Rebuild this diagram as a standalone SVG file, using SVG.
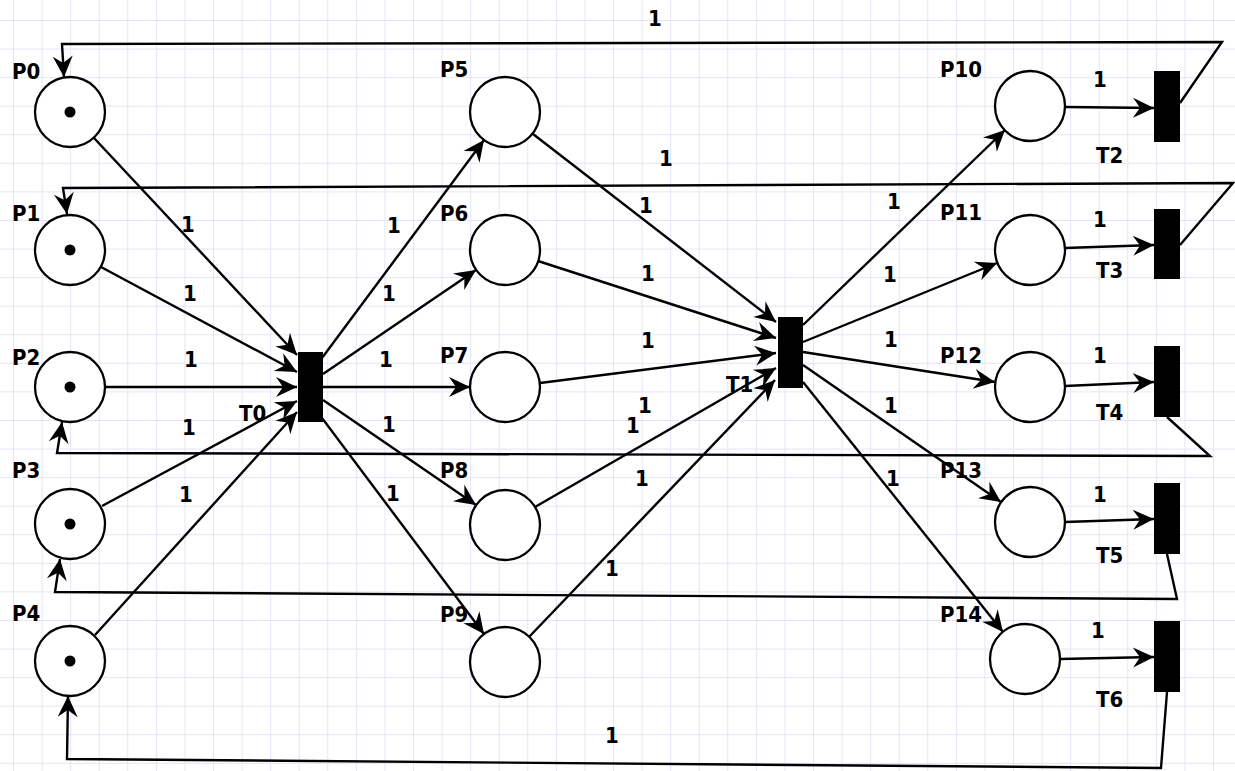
<svg xmlns="http://www.w3.org/2000/svg" width="1235" height="771" viewBox="0 0 1235 771">
<defs>
<pattern id="grid" patternUnits="userSpaceOnUse" x="13" y="20" width="28.5714" height="28.5714">
<path d="M0.5,0 V28.5714 M0,0.5 H28.5714" fill="none" stroke="#e4e4f6" stroke-width="1"/>
</pattern>
<marker id="arr" markerUnits="userSpaceOnUse" markerWidth="24" markerHeight="22" refX="21" refY="10" orient="auto" overflow="visible">
<path d="M21,10 L0,0 L7,10 L0,20 Z" fill="#000"/>
</marker>
<style>
.pl{fill:#fff;stroke:#000;stroke-width:2.3}
.tr{fill:#000}
.tok{fill:#000}
.lb{font-family:"DejaVu Sans Condensed","DejaVu Sans","Liberation Sans",sans-serif;font-stretch:condensed;font-weight:bold;font-size:22px;fill:#000}
.c{fill:none;stroke:#000;stroke-width:2.4;marker-end:url(#arr)}
.r{fill:none;stroke:#000;stroke-width:2.4;marker-end:url(#arr)}
</style>
</defs>
<rect width="1235" height="771" fill="#fff"/>
<rect width="1235" height="771" fill="url(#grid)"/>

<g id="connectors">
<line class="c" x1="94" y1="138" x2="297" y2="355"/>
<line class="c" x1="101" y1="267" x2="297" y2="372"/>
<line class="c" x1="105" y1="387" x2="297" y2="387"/>
<line class="c" x1="102" y1="506" x2="297" y2="401"/>
<line class="c" x1="95" y1="635" x2="297" y2="412"/>
<line class="c" x1="322" y1="358" x2="484" y2="140"/>
<line class="c" x1="323" y1="374" x2="476" y2="270"/>
<line class="c" x1="323" y1="387" x2="470" y2="387"/>
<line class="c" x1="323" y1="400" x2="476" y2="505"/>
<line class="c" x1="322" y1="418" x2="484" y2="634"/>
<line class="c" x1="533" y1="134" x2="776" y2="322"/>
<line class="c" x1="538" y1="261" x2="776" y2="338"/>
<line class="c" x1="540" y1="383" x2="776" y2="353"/>
<line class="c" x1="535" y1="507" x2="776" y2="368"/>
<line class="c" x1="529" y1="637" x2="775" y2="380"/>
<line class="c" x1="803" y1="325" x2="1005" y2="130"/>
<line class="c" x1="803" y1="342" x2="997" y2="263"/>
<line class="c" x1="803" y1="352" x2="995" y2="382"/>
<line class="c" x1="803" y1="365" x2="1001" y2="502"/>
<line class="c" x1="803" y1="382" x2="1003" y2="632"/>
<line class="c" x1="1065" y1="107" x2="1154" y2="108"/>
<line class="c" x1="1065" y1="248" x2="1154" y2="245"/>
<line class="c" x1="1065" y1="386" x2="1154" y2="382"/>
<line class="c" x1="1065" y1="522" x2="1154" y2="519"/>
<line class="c" x1="1060" y1="659" x2="1154" y2="657"/>
<polyline class="r" points="1180,103 1222,42 62,44 64,77"/>
<polyline class="r" points="1180,245 1233,183 63,188 67,214"/>
<polyline class="r" points="1167,417 1210,456 57,453 62,422"/>
<polyline class="r" points="1167,554 1177,599 55,592 60,559"/>
<polyline class="r" points="1167,692 1161,768 67,759 68,696"/>
<g class="lb">
<text x="181" y="232">1</text>
<text x="183" y="301">1</text>
<text x="184" y="367">1</text>
<text x="182" y="435">1</text>
<text x="179" y="502">1</text>
<text x="387" y="233">1</text>
<text x="382" y="301">1</text>
<text x="379" y="367">1</text>
<text x="382" y="432">1</text>
<text x="386" y="501">1</text>
<text x="639" y="213">1</text>
<text x="641" y="281">1</text>
<text x="641" y="348">1</text>
<text x="638" y="413">1</text>
<text x="626" y="433">1</text>
<text x="635" y="486">1</text>
<text x="605" y="576">1</text>
<text x="648" y="26">1</text>
<text x="659" y="166">1</text>
<text x="605" y="743">1</text>
<text x="887" y="209">1</text>
<text x="883" y="282">1</text>
<text x="884" y="347">1</text>
<text x="884" y="413">1</text>
<text x="886" y="486">1</text>
<text x="1093" y="87">1</text>
<text x="1093" y="227">1</text>
<text x="1093" y="363">1</text>
<text x="1093" y="502">1</text>
<text x="1091" y="638">1</text>
</g>
</g>

<g id="P0"><circle class="pl" cx="70" cy="112" r="35"/><circle class="tok" cx="70" cy="112" r="5.5"/><text class="lb" x="12" y="79">P0</text></g>
<g id="P1"><circle class="pl" cx="70" cy="250" r="35"/><circle class="tok" cx="70" cy="250" r="5.5"/><text class="lb" x="12" y="221">P1</text></g>
<g id="P2"><circle class="pl" cx="70" cy="387" r="35"/><circle class="tok" cx="70" cy="387" r="5.5"/><text class="lb" x="12" y="365">P2</text></g>
<g id="P3"><circle class="pl" cx="70" cy="524" r="35"/><circle class="tok" cx="70" cy="524" r="5.5"/><text class="lb" x="12" y="478">P3</text></g>
<g id="P4"><circle class="pl" cx="70" cy="661" r="35"/><circle class="tok" cx="70" cy="661" r="5.5"/><text class="lb" x="12" y="621">P4</text></g>

<g id="P5"><circle class="pl" cx="505" cy="112" r="35"/><text class="lb" x="440" y="77">P5</text></g>
<g id="P6"><circle class="pl" cx="505" cy="250" r="35"/><text class="lb" x="440" y="221">P6</text></g>
<g id="P7"><circle class="pl" cx="505" cy="387" r="35"/><text class="lb" x="440" y="363">P7</text></g>
<g id="P8"><circle class="pl" cx="505" cy="525" r="35"/><text class="lb" x="440" y="478">P8</text></g>
<g id="P9"><circle class="pl" cx="505" cy="662" r="35"/><text class="lb" x="440" y="622">P9</text></g>

<g id="P10"><circle class="pl" cx="1030" cy="106" r="35"/><text class="lb" x="940" y="77">P10</text></g>
<g id="P11"><circle class="pl" cx="1030" cy="250" r="35"/><text class="lb" x="940" y="220">P11</text></g>
<g id="P12"><circle class="pl" cx="1030" cy="387" r="35"/><text class="lb" x="940" y="363">P12</text></g>
<g id="P13"><circle class="pl" cx="1030" cy="522" r="35"/><text class="lb" x="940" y="478">P13</text></g>
<g id="P14"><circle class="pl" cx="1025" cy="659" r="35"/><text class="lb" x="940" y="622">P14</text></g>

<g id="T0"><rect class="tr" x="298" y="352" width="25" height="70"/><text class="lb" x="239" y="421">T0</text></g>
<g id="T1"><rect class="tr" x="778" y="317" width="25" height="71"/><text class="lb" x="726" y="392">T1</text></g>
<g id="T2"><rect class="tr" x="1154" y="71" width="26" height="71"/><text class="lb" x="1096" y="163">T2</text></g>
<g id="T3"><rect class="tr" x="1154" y="209" width="26" height="70"/><text class="lb" x="1096" y="278">T3</text></g>
<g id="T4"><rect class="tr" x="1154" y="346" width="26" height="71"/><text class="lb" x="1096" y="420">T4</text></g>
<g id="T5"><rect class="tr" x="1154" y="483" width="26" height="71"/><text class="lb" x="1096" y="563">T5</text></g>
<g id="T6"><rect class="tr" x="1154" y="621" width="26" height="71"/><text class="lb" x="1096" y="707">T6</text></g>
</svg>
